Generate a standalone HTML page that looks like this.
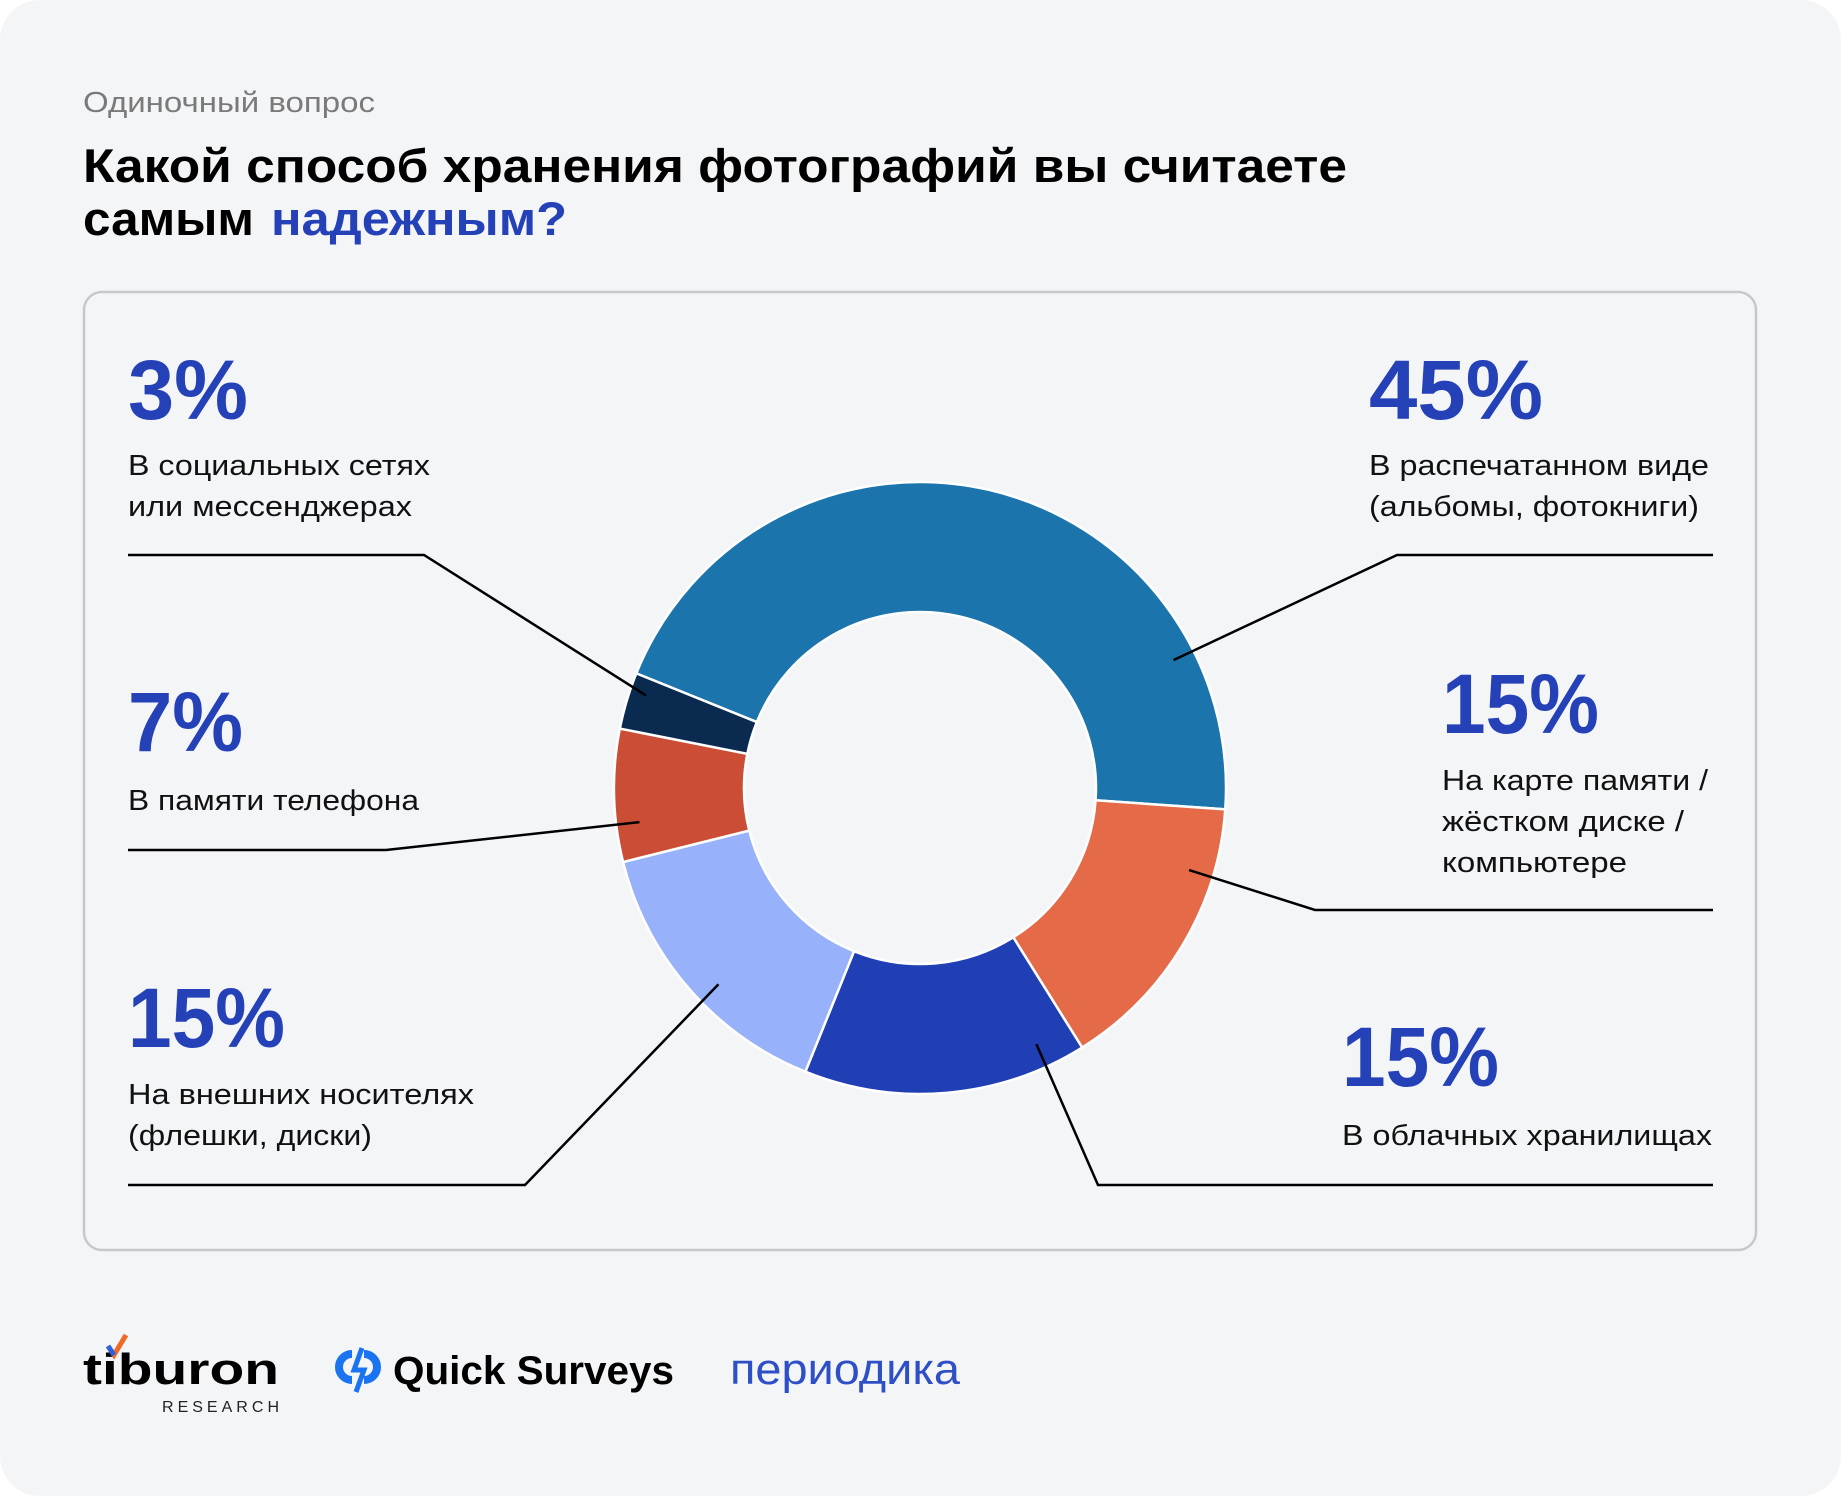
<!DOCTYPE html>
<html><head><meta charset="utf-8">
<style>
html,body{margin:0;padding:0;background:#fff;}
svg{display:block;}
text{font-family:"Liberation Sans","DejaVu Sans",sans-serif;}
</style></head>
<body>
<svg id="chart" width="1841" height="1496" viewBox="0 0 1841 1496" xmlns="http://www.w3.org/2000/svg">
  <rect x="0" y="0" width="1841" height="1496" rx="40" fill="#f4f5f7"/>
  <text x="83" y="112" font-size="29" fill="#7a7a7a" textLength="292" lengthAdjust="spacingAndGlyphs">Одиночный вопрос</text>
  <text x="83" y="182" font-size="47" font-weight="bold" fill="#000" textLength="1264" lengthAdjust="spacingAndGlyphs">Какой способ хранения фотографий вы считаете</text>
  <text x="83" y="235" font-size="47" font-weight="bold" fill="#000" textLength="171" lengthAdjust="spacingAndGlyphs">самым</text>
  <text x="271" y="235" font-size="47" font-weight="bold" fill="#2541b8" textLength="296" lengthAdjust="spacingAndGlyphs">надежным?</text>
  <rect x="84" y="292" width="1672" height="958" rx="18" fill="#f4f5f7" stroke="#c8c8c8" stroke-width="2.5"/>
  <g id="slices"></g>
  <g id="labels"></g>
  <g>
    <text x="83" y="1384" font-size="44" font-weight="bold" fill="#000" textLength="196" lengthAdjust="spacingAndGlyphs">tiburon</text>
    <path d="M108 1346 l6 9 l12 -20" stroke="#f26a22" stroke-width="5" fill="none"/>
    <path d="M108 1346 l6 9" stroke="#2a62e0" stroke-width="5" fill="none"/>
    <text x="162" y="1412" font-size="16" fill="#222" textLength="117" lengthAdjust="spacing">RESEARCH</text>
    <g fill="none" stroke="#1a73f0" stroke-width="8">
      <path d="M352 1354 a13 13 0 1 0 0 26"/>
      <path d="M364 1380 a13 13 0 1 0 0 -26"/>
      <path d="M362 1348 l-8 22 h10 l-8 22" stroke-width="5"/>
    </g>
    <text x="393" y="1384" font-size="40" font-weight="bold" fill="#000" textLength="281" lengthAdjust="spacingAndGlyphs">Quick Surveys</text>
    <text x="730" y="1384" font-size="44" fill="#2e4fc6" textLength="230" lengthAdjust="spacingAndGlyphs">периодика</text>
  </g>
</svg>
<script>
const categories = ["В распечатанном виде (альбомы, фотокниги)","На карте памяти / жёстком диске / компьютере","В облачных хранилищах","На внешних носителях (флешки, диски)","В памяти телефона","В социальных сетях или мессенджерах"];
const values = [45, 15, 15, 15, 7, 3];
const valueLabels = ["45%","15%","15%","15%","7%","3%"];
const colors = ["#1b74ab","#e56a47","#213fb4","#97b2fa","#cc4d36","#0a2a50"];

const NS = "http://www.w3.org/2000/svg";
const cx = 920, cy = 788, R = 306, r0 = 176, startDeg = -158;
const total = values.reduce((a,b)=>a+b,0);
function angleScale(v){ return (startDeg + v/total*360) * Math.PI/180; }
function pt(a, rad){ return [cx + rad*Math.cos(a), cy + rad*Math.sin(a)]; }

const gS = document.getElementById('slices');
let acc = 0;
const spans = [];
values.forEach((v,i)=>{
  const a0 = angleScale(acc), a1 = angleScale(acc+v);
  acc += v;
  spans.push([a0,a1]);
  const large = (a1-a0) > Math.PI ? 1 : 0;
  const p0 = pt(a0,R), p1 = pt(a1,R), q1 = pt(a1,r0), q0 = pt(a0,r0);
  const d = `M${p0[0]},${p0[1]} A${R},${R} 0 ${large} 1 ${p1[0]},${p1[1]} L${q1[0]},${q1[1]} A${r0},${r0} 0 ${large} 0 ${q0[0]},${q0[1]} Z`;
  const path = document.createElementNS(NS,'path');
  path.setAttribute('d', d);
  path.setAttribute('fill', colors[i]);
  path.setAttribute('stroke', '#ffffff');
  path.setAttribute('stroke-width', '2.5');
  
  
  gS.appendChild(path);
});

const layout = [
  {px:1369, py:419, lines:["В распечатанном виде","(альбомы, фотокниги)"], lw:[340,330], pw:174, ly:475, lead:[[1713,555],[1397,555]], f:0.81, rr:0.83},
  {px:1442, py:733, lines:["На карте памяти /","жёстком диске /","компьютере"], lw:[266,242,185], pw:157, ly:790, lead:[[1713,910],[1315,910]], f:0.24, rr:0.81},
  {px:1342, py:1086, lines:["В облачных хранилищах"], lw:[370], pw:157, ly:1145, lead:[[1713,1185],[1098,1185]], f:0.14, rr:0.81},
  {px:128, py:1047, lines:["На внешних носителях","(флешки, диски)"], lw:[346,244], pw:157, ly:1104, lead:[[128,1185],[525,1185]], f:0.44, rr:0.81},
  {px:128, py:751, lines:["В памяти телефона"], lw:[291], pw:115, ly:810, lead:[[128,850],[386,850]], f:0.28, rr:0.82},
  {px:128, py:419, lines:["В социальных сетях","или мессенджерах"], lw:[302,284], pw:120, ly:475, lead:[[128,555],[424,555]], f:0.69, rr:0.87}
];
const gL = document.getElementById('labels');
layout.forEach((L,i)=>{
  const t = document.createElementNS(NS,'text');
  t.setAttribute('x', L.px); t.setAttribute('y', L.py);
  t.setAttribute('font-size','84'); t.setAttribute('font-weight','bold');
  t.setAttribute('fill','#2541b8');
  t.setAttribute('textLength', L.pw); t.setAttribute('lengthAdjust','spacingAndGlyphs');
  t.textContent = valueLabels[i];
  
  
  gL.appendChild(t);
  L.lines.forEach((ln,j)=>{
    const c = document.createElementNS(NS,'text');
    c.setAttribute('x', L.px); c.setAttribute('y', L.ly + j*41);
    c.setAttribute('font-size','29'); c.setAttribute('fill','#111');
    c.setAttribute('textLength', L.lw[j]); c.setAttribute('lengthAdjust','spacingAndGlyphs');
    c.textContent = ln;
    
    
    gL.appendChild(c);
  });
  const a = spans[i][0] + (spans[i][1]-spans[i][0]) * L.f;
  const e = pt(a, r0 + (R-r0)*L.rr);
  const pl = document.createElementNS(NS,'polyline');
  pl.setAttribute('points', `${L.lead[0][0]},${L.lead[0][1]} ${L.lead[1][0]},${L.lead[1][1]} ${e[0]},${e[1]}`);
  pl.setAttribute('fill','none'); pl.setAttribute('stroke','#000'); pl.setAttribute('stroke-width','2.5');
  
  
  gL.appendChild(pl);
});
</script>
</body></html>
